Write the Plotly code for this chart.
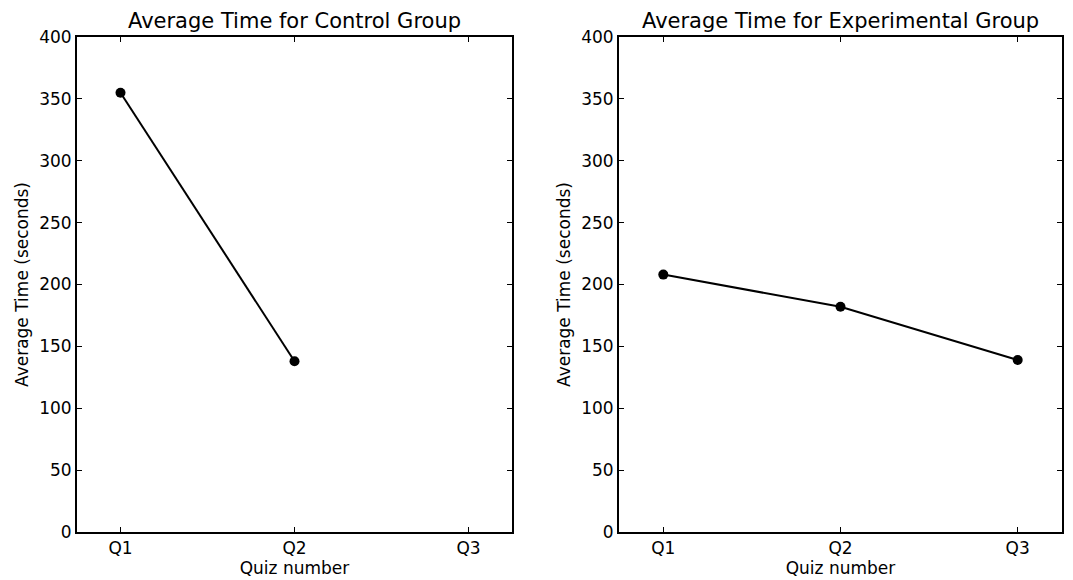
import plotly.graph_objects as go

quizzes = ["Q1", "Q2", "Q3"]
control_quizzes = ["Q1", "Q2"]
control_times = [355, 138]
experimental_quizzes = ["Q1", "Q2", "Q3"]
experimental_times = [208, 182, 139]
y_ticks = [0, 50, 100, 150, 200, 250, 300, 350, 400]

# page body has an 8px margin; figure is sized to fill the rest of the window
OFF = 8
W, H = 1073 - OFF, 580 - OFF
FONT = "DejaVu Sans"


def px_x(p):
    return (p - OFF) / W


def px_y(p):
    return 1 - (p - OFF) / H


fig = go.Figure()
line_style = dict(color="black", width=2)
marker_style = dict(color="black", size=10)

fig.add_trace(go.Scatter(x=control_quizzes, y=control_times, mode="lines+markers",
                         line=line_style, marker=marker_style, xaxis="x", yaxis="y",
                         showlegend=False))
fig.add_trace(go.Scatter(x=experimental_quizzes, y=experimental_times, mode="lines+markers",
                         line=line_style, marker=marker_style, xaxis="x2", yaxis="y2",
                         showlegend=False))

ydom = [px_y(532), px_y(37)]
common_x = dict(type="category", categoryorder="array", categoryarray=quizzes,
                range=[-0.25, 2.25], showline=True, linecolor="black", linewidth=2,
                mirror="allticks", ticks="inside", ticklen=5, tickcolor="black",
                showgrid=False, zeroline=False, automargin=False,
                tickfont=dict(family=FONT, size=17, color="black"),
                title=dict(text="Quiz number", font=dict(family=FONT, size=17, color="black"),
                           standoff=2))
common_y = dict(range=[0, 400], tickvals=y_ticks, showline=True, linecolor="black",
                linewidth=2, mirror="allticks", ticks="inside", ticklen=5,
                tickcolor="black", showgrid=False, zeroline=False, automargin=False,
                tickfont=dict(family=FONT, size=17, color="black"),
                title=dict(text="Average Time (seconds)",
                           font=dict(family=FONT, size=17, color="black"), standoff=6))

fig.update_layout(
    width=W, height=H,
    margin=dict(l=0, r=0, t=0, b=0),
    plot_bgcolor="white", paper_bgcolor="white",
    xaxis=dict(domain=[px_x(77), px_x(512)], anchor="y", **common_x),
    yaxis=dict(domain=ydom, anchor="x", **common_y),
    xaxis2=dict(domain=[px_x(619), px_x(1062)], anchor="y2", **common_x),
    yaxis2=dict(domain=ydom, anchor="x2", **common_y),
    annotations=[
        dict(text="Average Time for Control Group", xref="x domain", yref="paper",
             x=0.5, y=px_y(35), xanchor="center", yanchor="bottom", showarrow=False,
             font=dict(family=FONT, size=21, color="black")),
        dict(text="Average Time for Experimental Group", xref="x2 domain", yref="paper",
             x=0.5, y=px_y(35), xanchor="center", yanchor="bottom", showarrow=False,
             font=dict(family=FONT, size=21, color="black")),
    ],
)

fig.write_html("out.html")
